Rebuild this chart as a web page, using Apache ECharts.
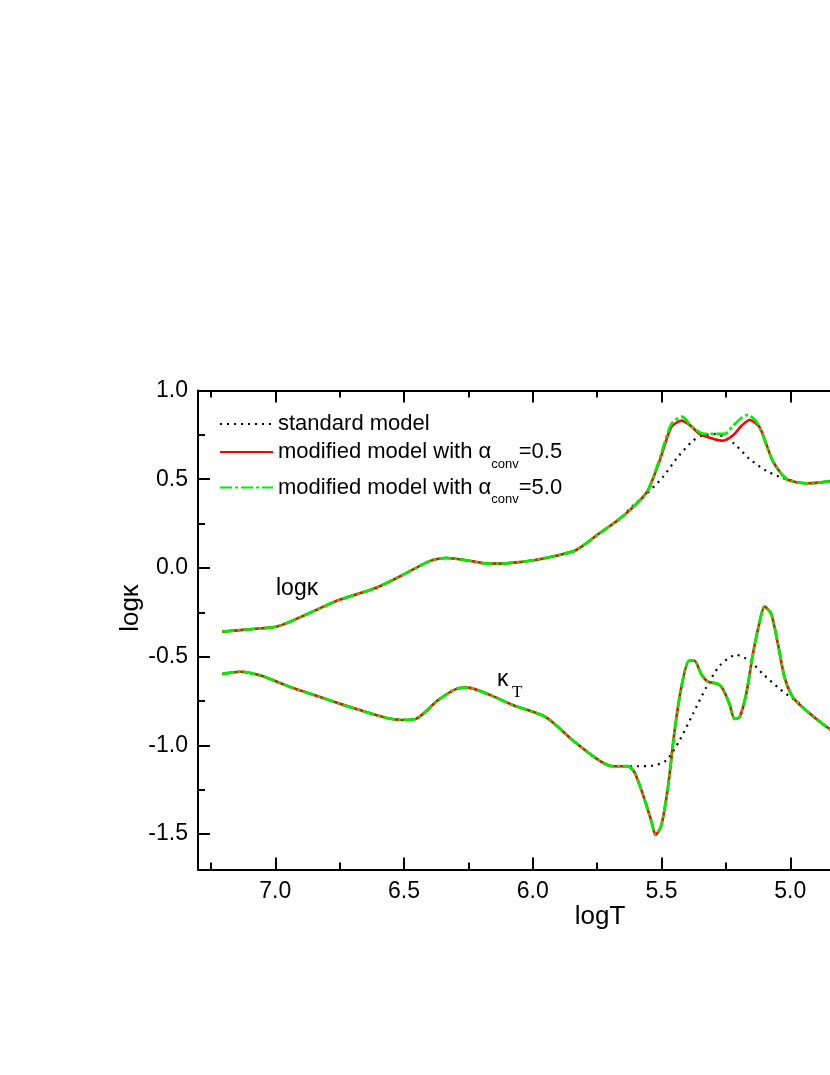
<!DOCTYPE html>
<html>
<head>
<meta charset="utf-8">
<script src="https://cdn.jsdelivr.net/npm/echarts@6/dist/echarts.min.js"></script>
<style>
  html, body { margin: 0; padding: 0; background: #fff; }
  #chart { width: 830px; height: 1075px; }
</style>
</head>
<body>
<div id="chart"></div>
<script>
// tick values
const xMajor = [7.0, 6.5, 6.0, 5.5, 5.0, 4.5];
const xMinor = [7.25, 6.75, 6.25, 5.75, 5.25, 4.75];
const yMajor = [-1.5, -1.0, -0.5, 0.0, 0.5, 1.0];
const yMinor = [-1.25, -0.75, -0.25, 0.25, 0.75];

const seriesNames = ['standard model', 'modified model with α_conv=0.5', 'modified model with α_conv=5.0'];

// log kappa branch, same for all models down to logT ~ 5.66
const upT = [7.205, 7.10, 6.99, 6.874, 6.758, 6.603, 6.473, 6.396, 6.337, 6.266, 6.188, 6.124, 6.059, 5.99, 5.896, 5.831, 5.741, 5.663];
const upK = [-0.359, -0.346, -0.329, -0.259, -0.184, -0.109, -0.015, 0.041, 0.056, 0.045, 0.026, 0.024, 0.032, 0.045, 0.073, 0.101, 0.195, 0.276];

const stdUpT = [5.611, 5.573, 5.495, 5.443, 5.378, 5.34, 5.288, 5.255, 5.217, 5.158, 5.094, 5.029, 4.975, 4.938, 4.88, 4.80];
const stdUpK = [0.351, 0.397, 0.511, 0.614, 0.717, 0.746, 0.755, 0.735, 0.699, 0.614, 0.548, 0.507, 0.485, 0.477, 0.482, 0.50];

const a05UpT = [5.62, 5.585, 5.553, 5.508, 5.462, 5.423, 5.39, 5.352, 5.30, 5.262, 5.223, 5.19, 5.158, 5.119, 5.067, 5.016, 4.975, 4.938, 4.88, 4.80];
const a05UpK = [0.33, 0.38, 0.436, 0.60, 0.793, 0.830, 0.805, 0.755, 0.728, 0.717, 0.746, 0.80, 0.834, 0.793, 0.60, 0.502, 0.483, 0.477, 0.482, 0.50];

const a50UpT = [5.62, 5.585, 5.553, 5.508, 5.462, 5.42, 5.385, 5.34, 5.30, 5.255, 5.223, 5.19, 5.165, 5.125, 5.067, 5.016, 4.975, 4.938, 4.88, 4.80];
const a50UpK = [0.33, 0.38, 0.436, 0.61, 0.81, 0.852, 0.80, 0.757, 0.755, 0.755, 0.80, 0.845, 0.863, 0.81, 0.60, 0.502, 0.483, 0.477, 0.482, 0.50];

// kappa_T branch, shared part
const loT = [7.205, 7.134, 7.056, 6.939, 6.823, 6.706, 6.577, 6.512, 6.454, 6.370, 6.292, 6.253, 6.176, 6.072, 5.948, 5.844, 5.741, 5.689, 5.65];
const loK = [-0.598, -0.585, -0.607, -0.673, -0.729, -0.786, -0.842, -0.857, -0.851, -0.748, -0.679, -0.675, -0.710, -0.776, -0.842, -0.973, -1.086, -1.118, -1.118];

const stdLoT = [5.611, 5.534, 5.482, 5.430, 5.378, 5.326, 5.274, 5.210, 5.158, 5.106, 5.041, 4.990, 4.96, 4.938, 4.847, 4.80];
const stdLoK = [-1.118, -1.115, -1.086, -0.973, -0.823, -0.673, -0.551, -0.490, -0.523, -0.598, -0.682, -0.738, -0.77, -0.804, -0.908, -0.94];

// both modified models coincide on this branch
const modLoT = [5.631, 5.605, 5.573, 5.540, 5.523, 5.501, 5.475, 5.449, 5.423, 5.393, 5.372, 5.346, 5.320, 5.281, 5.262, 5.236, 5.216, 5.197, 5.171, 5.145, 5.122, 5.100, 5.074, 5.048, 5.022, 4.990, 4.938, 4.847, 4.80];
const modLoK = [-1.118, -1.152, -1.274, -1.424, -1.505, -1.453, -1.237, -0.917, -0.673, -0.523, -0.523, -0.598, -0.641, -0.654, -0.682, -0.767, -0.851, -0.842, -0.710, -0.485, -0.325, -0.218, -0.259, -0.428, -0.617, -0.729, -0.804, -0.908, -0.94];

const FONT = '"Liberation Sans", Arial, sans-serif';

const zip = (xs, ys) => xs.map((x, i) => [x, ys[i]]);
const join = (t1, k1, t2, k2) => zip(t1.concat(t2), k1.concat(k2));

const chart = echarts.init(document.getElementById('chart'), null, { renderer: 'canvas' });

const xBase = {
  type: 'value', min: 4.5, max: 7.3, inverse: true, gridIndex: 0,
  splitLine: { show: false },
  axisLine: { show: false, onZero: false }
};
const yBase = {
  type: 'value', min: -1.7, max: 1.0, gridIndex: 0,
  splitLine: { show: false },
  axisLine: { show: false, onZero: false }
};
const tickStyle = { color: '#000', width: 2 };

const lineSeries = (name, data, style, z) => ({
  name, type: 'line', data, symbol: 'none', smooth: 0.25,
  xAxisIndex: 0, yAxisIndex: 0, z,
  lineStyle: style, itemStyle: { color: style.color },
  animation: false
});

const blackStyle = { color: '#000', width: 2.2, type: [2, 5] };
const redStyle = { color: '#ff0000', width: 2.6, type: 'solid' };
const greenStyle = { color: '#00ee00', width: 2.8, type: [12, 3, 3, 3] };

const option = {
  backgroundColor: '#fff',
  animation: false,
  // the frame runs on past the right edge of the page (x = 4.5 falls off canvas)
  grid: { left: 198, top: 390.5, width: 721, height: 479, containLabel: false, outerBoundsMode: 'none' },
  legend: {
    data: seriesNames,
    orient: 'vertical',
    left: 219, top: 413, padding: 0,
    itemWidth: 53, itemHeight: 14, itemGap: 6,
    itemStyle: { color: 'rgba(0,0,0,0)', borderWidth: 0, opacity: 0 },
    formatter: name => name.replace('α_conv', '{a|α}{s|conv}'),
    textStyle: {
      fontFamily: FONT, fontSize: 22, color: '#000',
      rich: {
        a: { fontFamily: FONT, fontSize: 22, color: '#000' },
        s: { fontFamily: FONT, fontSize: 13, color: '#000', padding: [24, 0, 0, 0] }
      }
    }
  },
  xAxis: [
    Object.assign({}, xBase, {
      position: 'bottom',
      axisLine: { show: true, onZero: false, lineStyle: { color: '#000', width: 2 } },
      axisTick: { inside: true, length: 12, lineStyle: tickStyle, customValues: xMajor },
      axisLabel: {
        customValues: xMajor, margin: 11, fontSize: 23, fontFamily: FONT, color: '#000',
        formatter: v => v.toFixed(1)
      }
    }),
    Object.assign({}, xBase, {
      position: 'bottom',
      axisTick: { inside: true, length: 7, lineStyle: tickStyle, customValues: xMinor },
      axisLabel: { show: false }
    }),
    Object.assign({}, xBase, {
      position: 'top',
      axisLine: { show: true, onZero: false, lineStyle: { color: '#000', width: 2 } },
      axisTick: { inside: true, length: 12, lineStyle: tickStyle, customValues: xMajor },
      axisLabel: { show: false }
    }),
    Object.assign({}, xBase, {
      position: 'top',
      axisTick: { inside: true, length: 7, lineStyle: tickStyle, customValues: xMinor },
      axisLabel: { show: false }
    })
  ],
  yAxis: [
    Object.assign({}, yBase, {
      position: 'left',
      axisLine: { show: true, onZero: false, lineStyle: { color: '#000', width: 2 } },
      axisTick: { inside: true, length: 12, lineStyle: tickStyle, customValues: yMajor },
      axisLabel: {
        customValues: yMajor, margin: 10, fontSize: 23, fontFamily: FONT, color: '#000',
        formatter: v => v.toFixed(1)
      }
    }),
    Object.assign({}, yBase, {
      position: 'left',
      axisTick: { inside: true, length: 7, lineStyle: tickStyle, customValues: yMinor },
      axisLabel: { show: false }
    })
  ],
  series: [
    lineSeries(seriesNames[0], join(upT, upK, stdUpT, stdUpK), blackStyle, 2),
    lineSeries(seriesNames[0], join(loT, loK, stdLoT, stdLoK), blackStyle, 2),
    lineSeries(seriesNames[1], join(upT, upK, a05UpT, a05UpK), redStyle, 3),
    lineSeries(seriesNames[1], join(loT, loK, modLoT, modLoK), redStyle, 3),
    lineSeries(seriesNames[2], join(upT, upK, a50UpT, a50UpK), greenStyle, 4),
    lineSeries(seriesNames[2], join(loT, loK, modLoT, modLoK), greenStyle, 4)
  ],
  graphic: [
    {
      type: 'text', x: 600, y: 917,
      style: { text: 'logT', font: '26px ' + FONT, fill: '#000', align: 'center', verticalAlign: 'middle' }
    },
    {
      type: 'text', x: 130.5, y: 608, rotation: Math.PI / 2,
      style: { text: 'logκ', font: '26px ' + FONT, fill: '#000', align: 'center', verticalAlign: 'middle' }
    },
    {
      type: 'text', x: 276, y: 589,
      style: { text: 'logκ', font: '23px ' + FONT, fill: '#000', align: 'left', verticalAlign: 'middle' }
    },
    {
      type: 'text', x: 497, y: 680,
      style: { text: 'κ', font: '23px ' + FONT, fill: '#000', align: 'left', verticalAlign: 'middle' }
    },
    {
      type: 'text', x: 512, y: 693,
      style: { text: 'T', font: '17px "Liberation Serif", serif', fill: '#000', align: 'left', verticalAlign: 'middle' }
    }
  ]
};

chart.setOption(option);
</script>
</body>
</html>
